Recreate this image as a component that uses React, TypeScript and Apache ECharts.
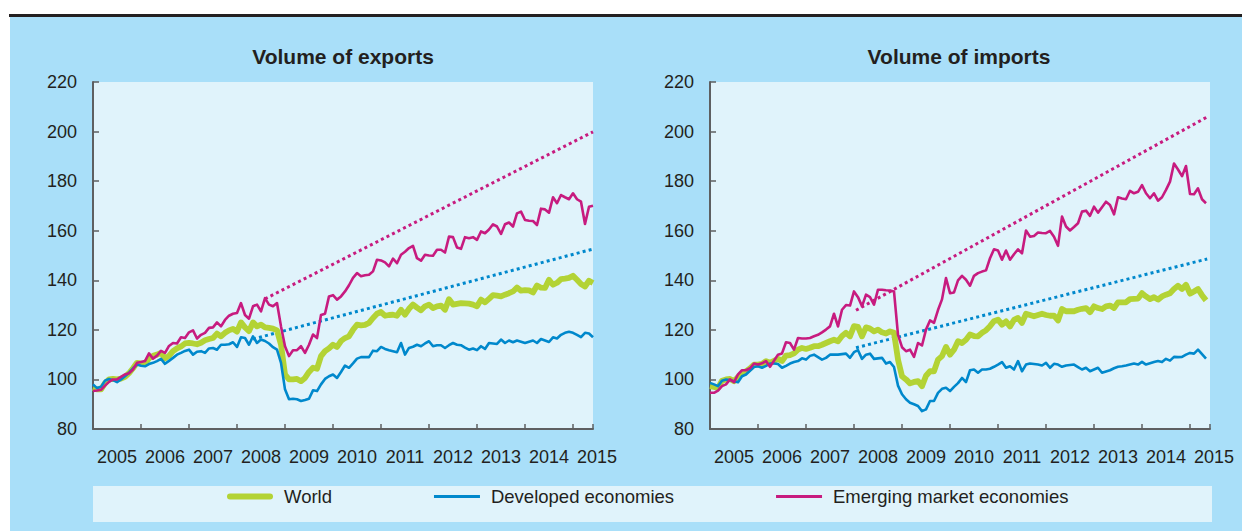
import React, { useEffect, useRef } from "react";
import * as echarts from "echarts";

// ---------- data (monthly, starting January 2005) ----------
const START_YEAR = 2005;
const YEAR_LABELS = ["2005", "2006", "2007", "2008", "2009", "2010", "2011", "2012", "2013", "2014", "2015"];
const Y_MIN = 80;
const Y_MAX = 220;
const Y_STEP = 20;
const MONTHS_SHOWN = 125;

const EXPORTS_WORLD = [
  96.6, 96, 96, 98.5, 100, 100.2, 100, 100.3, 101, 102.5, 104.5, 106.7,
  106.5, 106.4, 108.5, 109.5, 110, 110.7, 108.5, 109.5, 111.4, 112.5, 113.3, 114.5,
  114.7, 114.5, 114.2, 114.8, 115.8, 116.3, 116.7, 118.5, 117.4, 118.8, 119.8, 120.4,
  119.3, 123, 121, 119.5, 123, 121.4, 122.1, 121, 120.8, 120.5, 119.8, 114,
  102, 100, 100, 100.2, 99.3, 100.6, 103, 104.7, 104.3, 109.4, 111.4, 112.5,
  114, 113.1, 115.5, 116.7, 117.4, 120, 122.1, 121.8, 122, 122.8, 124.8, 126.5,
  127.2, 125.7, 126, 126.1, 125.7, 128.1, 126.1, 128.5, 130.2, 129, 127.9, 129.5,
  130.2, 128.8, 129.5, 129.8, 128.1, 132.4, 130.2, 130.5, 130.8, 130.7, 130.6, 130.2,
  129.5, 132.2, 131.1, 132.5, 134, 133.8, 133.5, 134.2, 134.8, 135.5, 137.1, 135.8,
  136, 135.9, 135.1, 137.9, 137, 136.9, 140.2, 138.2, 139, 140.5, 140.7, 141,
  141.8, 140.2, 138.5, 137.5, 139.8, 138.9,
];
const EXPORTS_DEVELOPED = [
  98, 96.5, 97, 99.5, 100.2, 99.7, 98.9, 100, 101.3, 102.7, 104.5, 106,
  105.5, 105.3, 106.2, 106.7, 107.4, 108.3, 106.3, 107.5, 108.7, 110, 110.7, 111.5,
  112, 110, 111.2, 111.4, 110.7, 112.5, 112.7, 112, 114, 114, 114.2, 115,
  113.1, 117, 116.7, 114, 117.4, 114.7, 116.1, 115.5, 114.5, 113, 112, 106.7,
  96, 92, 92.2, 92, 91.3, 91.7, 92.2, 95.6, 95.3, 98, 100.2, 101.3,
  102, 100.6, 103, 105.6, 104.7, 106.5, 108.4, 109, 109, 109, 111.6, 111.4,
  113.1, 112.3, 111.8, 111.4, 111, 114.7, 110, 112.7, 113.2, 114, 113.4, 114.5,
  115.4, 113.4, 113.8, 113.8, 112.7, 113.8, 114.7, 114, 113.8, 112.8, 112, 112.5,
  111.8, 113.4, 112.3, 114.7, 114.5, 114.3, 116.1, 114.7, 115.7, 115, 115.7, 115.2,
  114.7, 115.2, 115.7, 114.7, 116.3, 115.7, 115.1, 117, 116.5, 118, 118.8, 119.2,
  118.8, 118, 117.1, 118.8, 118.5, 117,
];
const EXPORTS_EMERGING = [
  95.3, 95.5, 95.8, 97.5, 99, 100, 100, 101, 102, 102.5, 104, 106.7,
  107, 107.4, 110.5, 108.4, 109.6, 111.5, 110.7, 113.5, 114.7, 114.5, 117, 116.7,
  119, 119.8, 116.5, 118, 118.8, 120.8, 121, 123, 121.4, 124, 125.7, 126.5,
  126.8, 130.8, 126, 124.5, 129.5, 130.2, 127.5, 132.8, 130.2, 129.5, 130.8, 121.4,
  113.4, 109.4, 111.8, 111.8, 113.4, 110.7, 114, 118.1, 116.7, 126, 126.5, 133.5,
  134, 132.2, 133.5, 135.5, 138, 141, 142.9, 141.6, 142, 142.2, 143.6, 148.3,
  148, 147.2, 145.6, 148.7, 146.9, 150.3, 151.5, 153, 153.9, 148.9, 147.9, 150.3,
  150, 149.9, 152.3, 152.3, 151.2, 157.6, 157.4, 153.2, 152.7, 157.4, 157, 157.4,
  156.3, 159.7, 159, 160.5, 162.6, 161.7, 158.7, 162.6, 163.3, 161.7, 167, 167.7,
  164.3, 164, 163.9, 162.3, 168.9, 168.6, 167.3, 173.5, 171.1, 174.4, 173.5, 172.7,
  175.1, 172.7, 171.7, 162.7, 169.7, 170.1,
];
const IMPORTS_WORLD = [
  97.3, 97, 96.6, 99.5, 100, 100.2, 99.3, 101, 102.3, 103.3, 104.5, 106,
  106, 106.3, 107.4, 106.7, 107.5, 108.3, 107.4, 109.6, 109.8, 110.5, 112, 112.7,
  112.3, 112.8, 113.4, 113.4, 114, 114.7, 115.4, 116, 115.4, 117.5, 118.8, 117.4,
  121.5, 121.2, 117.4, 121, 120.5, 119.4, 120.1, 119, 118.5, 119.4, 118.8, 108,
  101.3, 100, 98.4, 99, 99.3, 97.3, 101.5, 103.3, 103.3, 108, 109.4, 113.1,
  110, 112, 115.4, 114.7, 116, 118.1, 117.5, 117.4, 118.8, 119.8, 121.5, 123.5,
  124.1, 122.1, 123.4, 121.4, 124, 124.8, 122.8, 126.5, 126, 125.5, 126, 126.5,
  126, 125.7, 125.7, 123.8, 128.4, 127.5, 127.5, 127.5, 128.1, 128.5, 128.8, 127.1,
  129.5, 128.8, 128.4, 129.5, 129.8, 128.8, 131.1, 131.1, 131.1, 132.4, 132.5, 132.6,
  134.8, 133.5, 132.4, 133.2, 132.2, 133.5, 134.2, 134.8, 136.5, 137.8, 136.5, 138.2,
  134.6, 135.5, 136.5, 134, 131.9,
];
const IMPORTS_DEVELOPED = [
  98.6, 98, 97.3, 99.5, 100, 99.8, 99.3, 98.9, 101.3, 102, 103.5, 105,
  105.3, 104.7, 105.5, 106.4, 106.4, 106.2, 104.7, 105.5, 106.4, 107, 107.4, 108.5,
  108, 109.5, 110, 109, 108, 108.7, 110, 110, 110, 110.2, 110.4, 108.7,
  111, 111.8, 108.3, 110, 110.4, 108.3, 108.5, 108.7, 106.4, 107, 105, 97.5,
  94, 92, 90.6, 90, 89.3, 87.2, 87.9, 91.3, 91.3, 94.6, 96.2, 96.6,
  95.3, 97, 98.5, 100.6, 98.9, 103.7, 104, 102.7, 104, 104, 104.3, 105.1,
  106, 107, 104.7, 105.3, 104, 107.4, 103.3, 106, 106.4, 106.2, 106, 105.6,
  106.7, 104.7, 106.3, 106, 105.1, 105.6, 105.8, 106, 105, 104, 104.7, 103.3,
  104, 104.7, 102.7, 103.2, 103.7, 104.5, 105.1, 105.3, 105.6, 106, 106.4, 106,
  107.1, 106, 106.5, 107, 107.4, 107, 108.3, 107.6, 109.1, 109, 109.1, 110,
  110.7, 110.4, 112, 110.2, 108.4,
];
const IMPORTS_EMERGING = [
  94.6, 94.6, 95.5, 97.3, 98, 100, 98.9, 102, 103.7, 103.7, 104.5, 106.4,
  106, 106.5, 107.4, 105.1, 107.5, 110, 110.5, 115, 114.7, 112, 116.7, 116.5,
  116.5, 116.7, 117.4, 118, 119, 120.1, 121.4, 126.5, 121.4, 128.1, 130, 129.8,
  135.5, 133.2, 129.5, 134.2, 133.2, 130.2, 136.2, 136.2, 136, 135.9, 135.5, 118,
  113, 111.4, 112, 109.1, 114.7, 113.7, 120.1, 123.8, 122.8, 128, 132.3, 140.9,
  134.8, 135.1, 140, 141.8, 140.2, 137.8, 141.8, 142.9, 143.5, 144, 148.9, 152.5,
  152, 148.3, 152, 148.3, 150.5, 152.5, 150.9, 160.1, 157.6, 157.9, 159.3, 159.1,
  159, 159.9, 157.6, 153.9, 165.7, 161.7, 160.1, 161.5, 163, 167.7, 168.1, 166,
  169.7, 167.3, 169.5, 171.7, 170.4, 166.6, 173.5, 173, 172.7, 176.1, 175.1, 175.7,
  178.4, 175.1, 173.1, 175.1, 172.1, 173.5, 176.5, 179.8, 187.1, 184.7, 182, 186.1,
  174.8, 174.7, 177.1, 172.7, 171.1,
];

// dotted pre-crisis trend extrapolations: [month index, value]
const EXPORTS_TREND_DEVELOPED = [[40, 116.3], [125, 152.6]];
const EXPORTS_TREND_EMERGING = [[43, 132.5], [125, 199.9]];
const IMPORTS_TREND_DEVELOPED = [[36.5, 112.8], [124.3, 148.6]];
const IMPORTS_TREND_EMERGING = [[36.5, 127.9], [124.3, 205.9]];

const SERIES_NAMES = ["World", "Developed economies", "Emerging market economies"];
const PANEL_TITLES = ["Volume of exports", "Volume of imports"];

// ---------- styling ----------
const C_WORLD = "#B3D335";
const C_DEV = "#0088CC";
const C_EMG = "#C71B7F";
const C_TEXT = "#231F20";
const C_AXIS = "#5E5F61";
const C_BG = "#A9DFF9";
const C_PLOT = "#E0F3FB";
const FONT = "'Liberation Sans', Arial, Helvetica, sans-serif";
const FONT_NARROW = "'Liberation Sans Narrow', 'Arial Narrow', 'Liberation Sans', sans-serif";

const toPoints = (arr: number[]) => arr.map((v, i) => [i, v]);

function xAxis(gridIndex: number) {
  return {
    type: "value",
    gridIndex,
    min: 0,
    max: MONTHS_SHOWN,
    interval: 12,
    axisLine: { show: true, onZero: false, lineStyle: { color: C_AXIS, width: 2 } },
    axisTick: { show: true, inside: true, length: 5, lineStyle: { color: C_AXIS, width: 1.5 } },
    axisLabel: {
      formatter: (v: number) => (v % 12 === 0 ? YEAR_LABELS[v / 12] ?? "" : ""),
      padding: [0, 0, 0, 48],
      margin: 19,
      fontSize: 18,
      fontFamily: FONT_NARROW,
      color: C_TEXT,
      showMaxLabel: true,
    },
    splitLine: { show: false },
  };
}

function yAxis(gridIndex: number) {
  return {
    type: "value",
    gridIndex,
    min: Y_MIN,
    max: Y_MAX,
    interval: Y_STEP,
    axisLine: { show: true, lineStyle: { color: C_AXIS, width: 2 } },
    axisTick: { show: true, inside: true, length: 6, lineStyle: { color: C_AXIS, width: 1.5 } },
    axisLabel: { fontSize: 18, fontFamily: FONT, color: C_TEXT, margin: 16 },
    splitLine: { show: false },
  };
}

function lineSeries(name: string, idx: number, data: number[], color: string, width: number, z: number) {
  return {
    type: "line",
    name,
    xAxisIndex: idx,
    yAxisIndex: idx,
    data: toPoints(data),
    symbol: "none",
    showSymbol: false,
    silent: true,
    z,
    lineStyle: { color, width, join: "round" },
    itemStyle: { color },
  };
}

function trendSeries(name: string, idx: number, data: number[][], color: string) {
  return {
    type: "line",
    name,
    xAxisIndex: idx,
    yAxisIndex: idx,
    data,
    symbol: "none",
    showSymbol: false,
    silent: true,
    z: 1,
    lineStyle: { color, width: 3, type: [3, 3.2] },
    itemStyle: { color },
  };
}

export default function App() {
  const ref = useRef<HTMLDivElement>(null);

  useEffect(() => {
    if (!ref.current) return;
    const chart = echarts.init(ref.current, undefined, { renderer: "svg" });
    const option = {
      animation: false,
      backgroundColor: "#FFFFFF",
      textStyle: { fontFamily: FONT },
      graphic: [
        { type: "rect", z: -10, shape: { x: 9, y: 14, width: 1233, height: 3 }, style: { fill: C_TEXT } },
        { type: "rect", z: -10, shape: { x: 10, y: 17, width: 1232, height: 514 }, style: { fill: C_BG } },
        { type: "rect", z: -10, shape: { x: 93, y: 486, width: 1119, height: 36 }, style: { fill: C_PLOT } },
        {
          type: "text", z: 10, x: 343, y: 56,
          style: { text: PANEL_TITLES[0], align: "center", verticalAlign: "middle", font: `bold 21px ${FONT}`, fill: C_TEXT },
        },
        {
          type: "text", z: 10, x: 959, y: 56,
          style: { text: PANEL_TITLES[1], align: "center", verticalAlign: "middle", font: `bold 21px ${FONT}`, fill: C_TEXT },
        },
      ],
      grid: [
        { left: 93, right: 649, top: 82, bottom: 102, show: true, backgroundColor: C_PLOT, borderWidth: 0 },
        { left: 710, right: 32, top: 82, bottom: 102, show: true, backgroundColor: C_PLOT, borderWidth: 0 },
      ],
      xAxis: [xAxis(0), xAxis(1)],
      yAxis: [yAxis(0), yAxis(1)],
      legend: {
        left: 227,
        top: 487,
        padding: 0,
        itemWidth: 46,
        itemHeight: 18,
        itemGap: 102,
        selectedMode: false,
        textStyle: { fontSize: 18.5, fontFamily: FONT, color: C_TEXT, padding: [0, 0, 0, 6] },
        data: [
          { name: SERIES_NAMES[0], icon: "path://M3,0H43A3,3 0 0 1 43,6H3A3,3 0 0 1 3,0Z", itemStyle: { color: C_WORLD } },
          { name: SERIES_NAMES[1], icon: "path://M0,0H46V3H0Z", itemStyle: { color: C_DEV } },
          { name: SERIES_NAMES[2], icon: "path://M0,0H46V3H0Z", itemStyle: { color: C_EMG } },
        ],
      },
      series: [
        trendSeries("Developed trend", 0, EXPORTS_TREND_DEVELOPED, C_DEV),
        trendSeries("Emerging trend", 0, EXPORTS_TREND_EMERGING, C_EMG),
        lineSeries(SERIES_NAMES[0], 0, EXPORTS_WORLD, C_WORLD, 5.8, 2),
        lineSeries(SERIES_NAMES[1], 0, EXPORTS_DEVELOPED, C_DEV, 2.6, 3),
        lineSeries(SERIES_NAMES[2], 0, EXPORTS_EMERGING, C_EMG, 2.6, 4),
        trendSeries("Developed trend", 1, IMPORTS_TREND_DEVELOPED, C_DEV),
        trendSeries("Emerging trend", 1, IMPORTS_TREND_EMERGING, C_EMG),
        lineSeries(SERIES_NAMES[0], 1, IMPORTS_WORLD, C_WORLD, 5.8, 2),
        lineSeries(SERIES_NAMES[1], 1, IMPORTS_DEVELOPED, C_DEV, 2.6, 3),
        lineSeries(SERIES_NAMES[2], 1, IMPORTS_EMERGING, C_EMG, 2.6, 4),
      ],
    };
    chart.setOption(option as any);
    return () => chart.dispose();
  }, []);

  return (
    <div
      ref={ref}
      style={{ position: "fixed", left: 0, top: 0, width: 1242, height: 531 }}
    />
  );
}
